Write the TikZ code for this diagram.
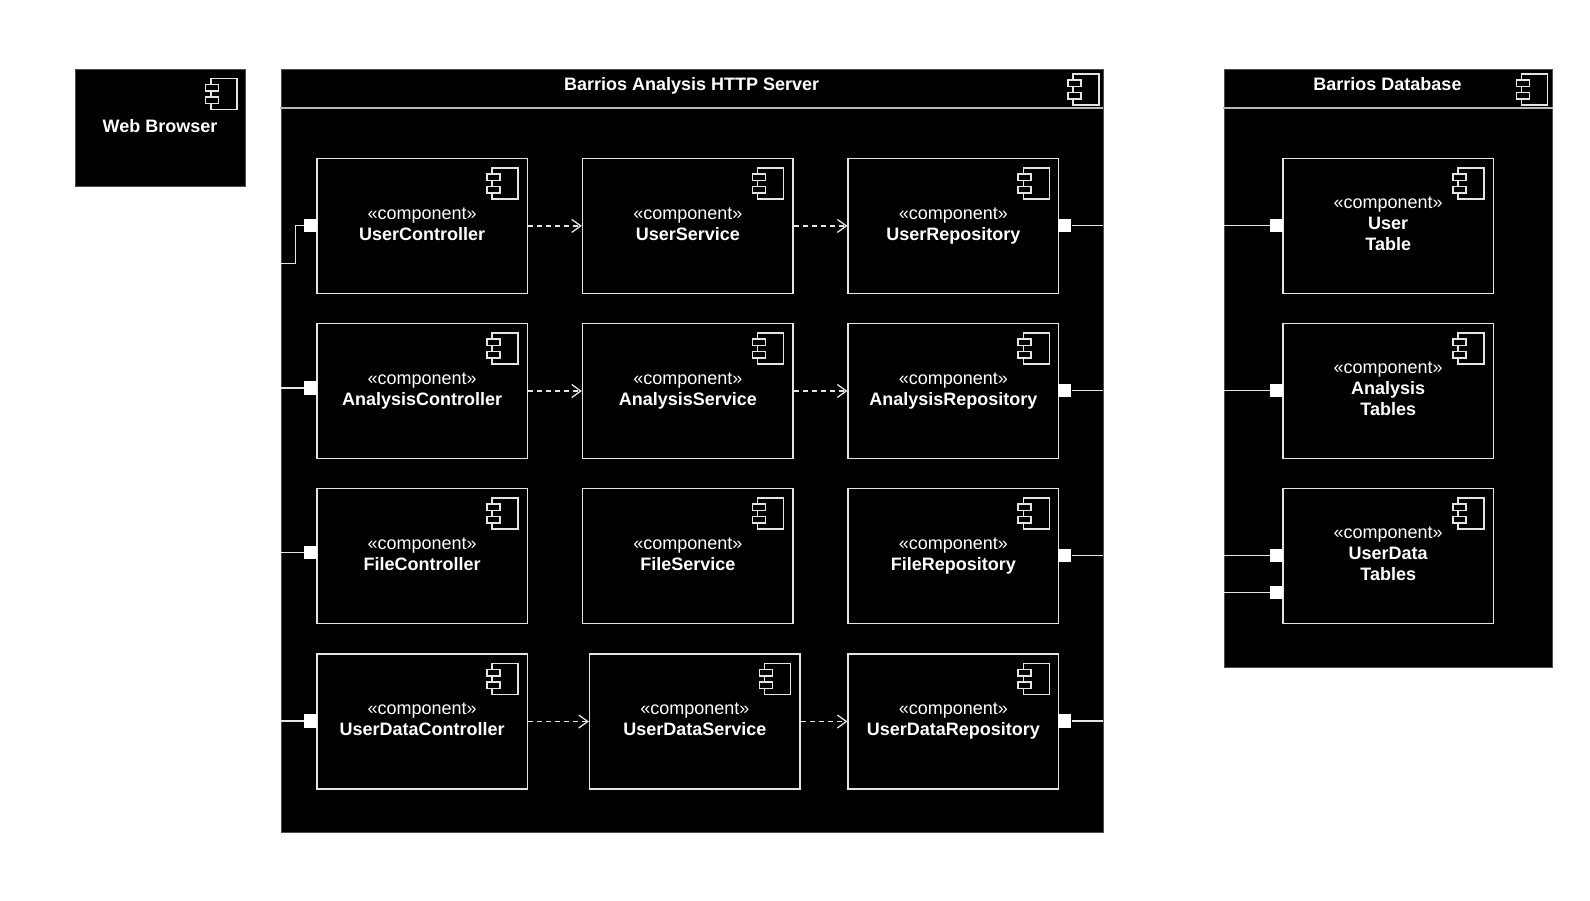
\documentclass[tikz,border=0pt]{standalone}
\usepackage{fontspec}
\setmainfont{Liberation Sans}
\usetikzlibrary{arrows.meta}
\definecolor{ln}{HTML}{E4E4E4}
\newcommand\lowstrut{\vphantom{gy}}
\tikzset{
  x=1pt,y=-1pt,
  frame/.style={draw=black!70,line width=0.8pt,fill=black,inner sep=0,minimum width=#1},
  comp/.style={draw=ln,line width=1.4pt,fill=black,inner sep=0,minimum width=210.5pt,minimum height=134.8pt},
  lbl/.style={text=white,align=center,inner sep=0,font=\fontsize{18}{21}\selectfont},
  ttl/.style={text=white,align=center,inner sep=0,font=\fontsize{18}{21}\selectfont\bfseries},
  port/.style={draw=none,fill=white,inner sep=0,minimum width=13pt,minimum height=13.5pt},
  wire/.style={draw=ln,line width=1.4pt},
  dep/.style={draw=ln,line width=1.3pt,dash pattern=on 5pt off 4pt,-{Straight Barb[length=9pt,width=13pt,line width=1.3pt]}},
  icon/.pic={
    \draw[ln,line width=1.4pt] (-26,0) rectangle (0,31);
    \draw[ln,line width=1.4pt,fill=black] (-31.2,6) rectangle (-18.2,12.5);
    \draw[ln,line width=1.4pt,fill=black] (-31.2,18.5) rectangle (-18.2,25);
  }
}
\newcommand\compbox[5][0.9]{% text offset, name, cx, cy, name text
  \node[comp] (#2) at (#3,#4) {};
  \node[lbl] (#2t) at (#3,#4-1+#1) {«component»\\#5\lowstrut};
  \pic at ([xshift=-10pt,yshift=-10pt]#2.north east) {icon};
}
\begin{document}
\begin{tikzpicture}
\useasboundingbox (0,0) rectangle (1590,900);
% outer frames
\node[frame=170.4pt,minimum height=117.6pt] (web) at (160.2,127.8) {};
\node[frame=822pt,minimum height=763.4pt] (srv) at (692,450.7) {};
\node[frame=328.5pt,minimum height=598pt] (db) at (1388.2,368) {};
\coordinate (srvL) at (279.5,107.5);
\coordinate (srvR) at (1103,107.5);
\coordinate (dbL) at (1222.5,107.5);
\coordinate (dbR) at (1552.5,107.5);
\draw[draw=black!28,line width=2pt] (srvL) -- (srvR);
\draw[draw=black!28,line width=2pt] (dbL) -- (dbR);
\pic at (236.8,78.3) {icon};
\pic at (1099,74) {icon};
\pic at (1547.5,74) {icon};
\node[ttl] (webt) at (160,126.2) {Web Browser};
\node[ttl] (srvt) at (691.6,86) {Barrios Analysis HTTP Server\lowstrut};
\node[ttl] (dbt) at (1387.5,86) {Barrios Database\lowstrut};
% components
\compbox{uc}{422.2}{225.9}{\textbf{UserController}}
\compbox{us}{687.8}{225.9}{\textbf{UserService}}
\compbox{ur}{953.4}{225.9}{\textbf{UserRepository}}
\compbox{ac}{422.2}{391}{\textbf{AnalysisController}}
\compbox{as}{687.8}{391}{\textbf{AnalysisService}}
\compbox{ar}{953.4}{391}{\textbf{AnalysisRepository}}
\compbox{fc}{422.2}{556}{\textbf{FileController}}
\compbox{fs}{687.8}{556}{\textbf{FileService}}
\compbox{fr}{953.4}{556}{\textbf{FileRepository}}
\compbox{dc}{422.2}{721.5}{\textbf{UserDataController}}
\compbox{ds}{694.8}{721.5}{\textbf{UserDataService}}
\compbox{dr}{953.4}{721.5}{\textbf{UserDataRepository}}
\compbox[0.4]{tu}{1388.2}{225.9}{\textbf{User}\\\textbf{Table}}
\compbox[0.4]{ta}{1388.2}{391}{\textbf{Analysis}\\\textbf{Tables}}
\compbox[0.4]{td}{1388.2}{556}{\textbf{UserData}\\\textbf{Tables}}
% ports
\node[port] (puc) at (310.5,225.6) {};
\node[port] (pac) at (310.5,387.9) {};
\node[port] (pfc) at (310.5,552.6) {};
\node[port] (pdc) at (310.5,721) {};
\node[port] (pur) at (1064.9,225.6) {};
\node[port] (par) at (1064.9,390.4) {};
\node[port] (pfr) at (1064.9,555.7) {};
\node[port] (pdr) at (1064.9,721) {};
\node[port] (ptu) at (1276.5,225.6) {};
\node[port] (pta) at (1276.5,390.4) {};
\node[port] (ptd) at (1276.5,555.7) {};
\node[port] (pte) at (1276.5,592.7) {};
% free ends on the frames
\coordinate (e1) at (280.9,263.5);
\coordinate (e1b) at (295.6,263.5);
\coordinate (e1c) at (295.6,225.6);
\coordinate (e2) at (280.9,387.9);
\coordinate (e3) at (280.9,552.6);
\coordinate (e4) at (280.9,721);
\coordinate (r1) at (1103,225.6);
\coordinate (r2) at (1103,390.4);
\coordinate (r3) at (1103,555.7);
\coordinate (r4) at (1103,721);
\coordinate (d1) at (1224,225.6);
\coordinate (d2) at (1224,390.4);
\coordinate (d3) at (1224,555.7);
\coordinate (d4) at (1224,592.7);
\draw[wire] (e1) -- (e1b) -- (e1c) -- (puc.west);
\draw[wire] (e2) -- (pac.west);
\draw[wire] (e3) -- (pfc.west);
\draw[wire] (e4) -- (pdc.west);
\draw[wire] (pur.east) -- (r1);
\draw[wire] (par.east) -- (r2);
\draw[wire] (pfr.east) -- (r3);
\draw[wire] (pdr.east) -- (r4);
\draw[wire] (d1) -- (ptu.west);
\draw[wire] (d2) -- (pta.west);
\draw[wire] (d3) -- (ptd.west);
\draw[wire] (d4) -- (pte.west);
% dependencies
\draw[dep] (uc.east) -- (us.west);
\draw[dep] (us.east) -- (ur.west);
\draw[dep] (ac.east) -- (as.west);
\draw[dep] (as.east) -- (ar.west);
\draw[dep] (dc.east) -- (ds.west);
\draw[dep] (ds.east) -- (dr.west);
\end{tikzpicture}
\end{document}
